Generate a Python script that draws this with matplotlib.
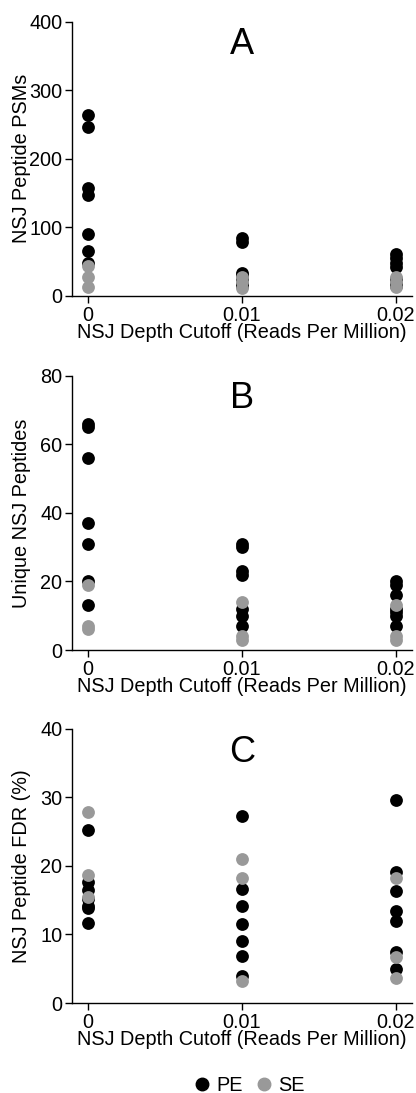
import numpy as np
import matplotlib.pyplot as plt
from matplotlib.lines import Line2D

plt.rcParams['font.family'] = ['Liberation Sans', 'DejaVu Sans']

cutoffs = [0, 0.01, 0.02]

# PSMs per sample (PE: 7 samples, SE: 3 samples) at each cutoff
psm_pe = [[264, 246, 158, 147, 90, 65, 48],
          [85, 78, 33, 30, 25, 18, 14],
          [61, 55, 48, 42, 25, 18, 14]]
psm_se = [[43, 27, 13],
          [28, 20, 12],
          [28, 20, 13]]

# unique peptides
pep_pe = [[66, 65, 56, 37, 31, 20, 13],
          [31, 30, 23, 22, 12, 10, 7],
          [20, 19, 16, 12, 11, 10, 7]]
pep_se = [[19, 7, 6],
          [14, 4, 3],
          [13, 4, 3]]

# peptide FDR (%)
fdr_pe = [[25.3, 17.6, 16.5, 15.1, 14.1, 13.8, 11.7],
          [27.3, 16.6, 14.2, 11.5, 9.1, 6.9, 4.0],
          [29.6, 19.1, 16.3, 13.4, 11.9, 7.5, 5.0]]
fdr_se = [[27.9, 18.6, 15.4],
          [21.0, 18.2, 3.2],
          [18.2, 6.7, 3.6]]

panels = [("A", "NSJ Peptide PSMs", psm_pe, psm_se, 400, [0, 100, 200, 300, 400]),
          ("B", "Unique NSJ Peptides", pep_pe, pep_se, 80, [0, 20, 40, 60, 80]),
          ("C", "NSJ Peptide FDR (%)", fdr_pe, fdr_se, 40, [0, 10, 20, 30, 40])]

pe_col = "black"
se_col = "#999999"
fs = 14.3

fig = plt.figure(figsize=(4.16, 10.93), dpi=100)
bottoms = [0.7292, 0.4053, 0.0823]

for (letter, ylab, pe, se, ymax, yt), b in zip(panels, bottoms):
    ax = fig.add_axes([0.173, b, 0.817, 0.2510])
    for c, vals in zip(cutoffs, pe):
        ax.scatter([c] * len(vals), vals, s=85, color=pe_col, lw=0, zorder=3, clip_on=False)
    for c, vals in zip(cutoffs, se):
        ax.scatter([c] * len(vals), vals, s=85, color=se_col, lw=0, zorder=4, clip_on=False)
    ax.set_xlim(-0.00104, 0.02104)
    ax.set_ylim(0, ymax)
    ax.set_yticks(yt)
    ax.set_xticks(cutoffs)
    ax.set_xticklabels(["0", "0.01", "0.02"])
    ax.spines['top'].set_visible(False)
    ax.spines['right'].set_visible(False)
    for sp in ['left', 'bottom']:
        ax.spines[sp].set_linewidth(1.0)
    ax.tick_params(direction='out', length=5, width=1.0, labelsize=fs, pad=2)
    ax.set_ylabel(ylab, fontsize=fs)
    ax.yaxis.set_label_coords(-0.12, 0.5)
    ax.set_xlabel("NSJ Depth Cutoff (Reads Per Million)", fontsize=fs, labelpad=-1)
    ax.text(0.01, ymax * 0.915, letter, fontsize=26, ha='center', va='center')

handles = [Line2D([], [], marker='o', ls='', color=pe_col, markersize=9, label='PE'),
           Line2D([], [], marker='o', ls='', color=se_col, markersize=9, label='SE')]
fig.legend(handles=handles, loc='center', bbox_to_anchor=(0.595, 0.007), ncol=2,
           frameon=False, fontsize=fs, handletextpad=0.1, columnspacing=0.5,
           handlelength=1.2)

fig.savefig("out.png", dpi=100)
